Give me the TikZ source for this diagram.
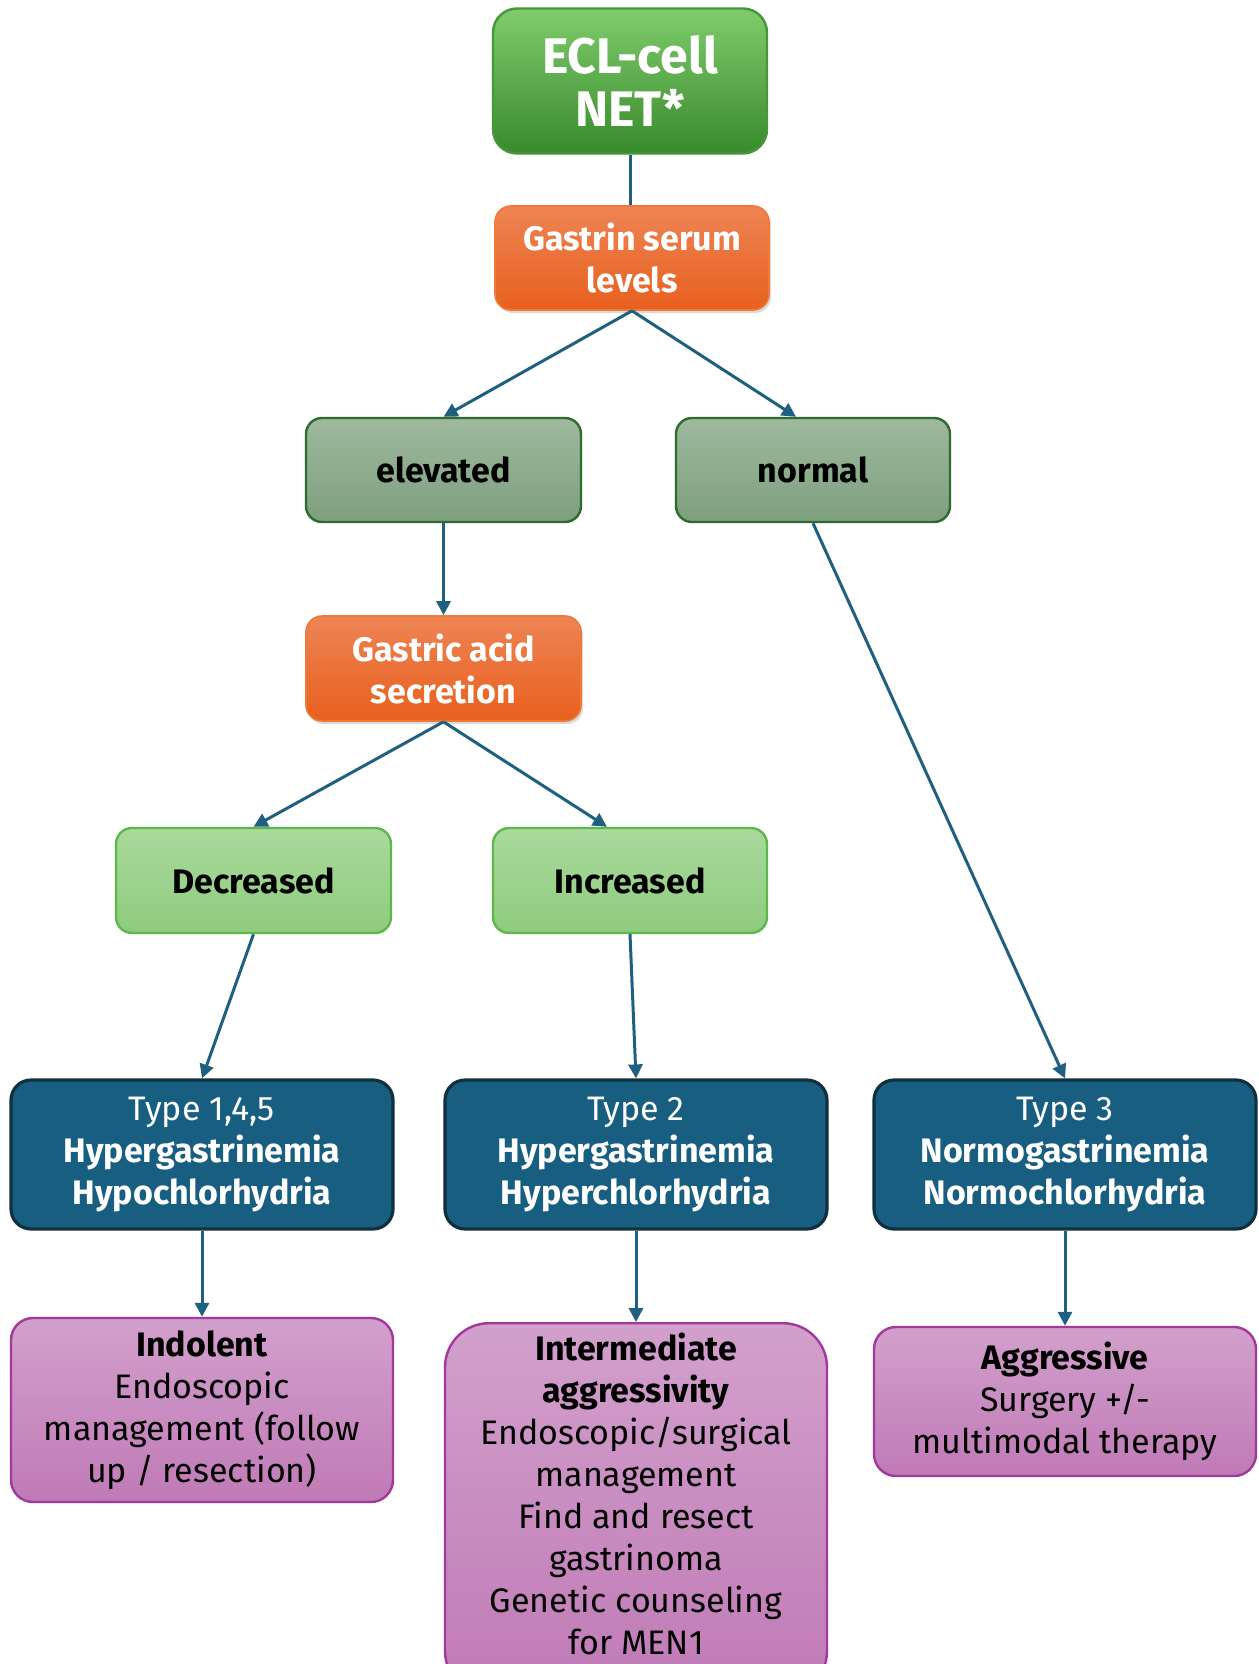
\documentclass[tikz,border=0pt]{standalone}
\usepackage{fontspec}
\setmainfont{Fira Sans}
\usetikzlibrary{arrows.meta,calc,shadows}
\definecolor{lineblue}{HTML}{1F5F80}
\definecolor{ecltop}{HTML}{80CC6C}
\definecolor{eclbot}{HTML}{388A2C}
\definecolor{ortop}{HTML}{EE8454}
\definecolor{orbot}{HTML}{E8601E}
\definecolor{ordraw}{HTML}{F07838}
\definecolor{grtop}{HTML}{9EB99E}
\definecolor{grbot}{HTML}{7E9F7E}
\definecolor{grdraw}{HTML}{2E6B2E}
\definecolor{lgtop}{HTML}{AADA9C}
\definecolor{lgbot}{HTML}{8ECB7E}
\definecolor{lgdraw}{HTML}{5DB84C}
\definecolor{typefill}{HTML}{175E80}
\definecolor{typedraw}{HTML}{10303F}
\definecolor{outtop}{HTML}{D2A0CC}
\definecolor{outbot}{HTML}{C07AB6}
\definecolor{outdraw}{HTML}{A2389C}
\tikzset{
  basebox/.style={rounded corners=8pt, line width=1.2pt, align=center, inner sep=0pt,
    font=\fontsize{17}{21}\selectfont},
  eclbox/.style={basebox, rounded corners=12pt, top color=ecltop, bottom color=eclbot, draw=eclbot!80!ecltop,
    text=white, font=\fontsize{25}{26.5}\selectfont\bfseries},
  orbox/.style={basebox, top color=ortop, bottom color=orbot, draw=ordraw, line width=0.8pt,
    text=white, font=\fontsize{17}{21}\selectfont\bfseries,
    drop shadow={shadow xshift=1pt, shadow yshift=-1.5pt, opacity=0.3}},
  grbox/.style={basebox, top color=grtop, bottom color=grbot, draw=grdraw,
    font=\fontsize{17}{21}\selectfont\bfseries},
  lgbox/.style={basebox, top color=lgtop, bottom color=lgbot, draw=lgdraw,
    font=\fontsize{17}{21}\selectfont\bfseries},
  typebox/.style={basebox, rounded corners=10pt, fill=typefill, draw=typedraw, line width=1.6pt, text=white},
  outbox/.style={basebox, rounded corners=11pt, top color=outtop, bottom color=outbot, draw=outdraw},
  conn/.style={draw=lineblue, line width=1.5pt},
  arr/.style={conn, -{Triangle[width=7pt,length=7pt]}}
}
\begin{document}
\begin{tikzpicture}[x=0.5pt,y=-0.5pt]
\useasboundingbox (0,0) rectangle (1258,1664);
\clip (0,0) rectangle (1258,1664);

\node[eclbox, minimum width=137pt, minimum height=72.5pt] (ecl) at (630,81) {ECL-cell\\NET*};
\node[orbox, minimum width=137pt, minimum height=52pt] (gastrin) at (632,258) {Gastrin serum\\levels};
\node[grbox, minimum width=137.5pt, minimum height=52pt] (elev) at (443.5,470) {elevated};
\node[grbox, minimum width=137pt, minimum height=52pt] (norm) at (813,470) {normal};
\node[orbox, minimum width=137.5pt, minimum height=52.5pt] (acid) at (443.5,668.5) {Gastric acid\\secretion};
\node[lgbox, minimum width=137.5pt, minimum height=52.5pt] (decr) at (253.5,880.5) {Decreased};
\node[lgbox, minimum width=137pt, minimum height=52.5pt] (incr) at (630,880.5) {Increased};

\node[typebox, minimum width=191pt, minimum height=74.5pt] (t1) at (202,1154.5)
  {Type 1,4,5\\\textbf{Hypergastrinemia}\\\textbf{Hypochlorhydria}};
\node[typebox, minimum width=191pt, minimum height=74.5pt] (t2) at (636,1154.5)
  {Type 2\\\textbf{Hypergastrinemia}\\\textbf{Hyperchlorhydria}};
\node[typebox, minimum width=191pt, minimum height=74.5pt] (t3) at (1065,1154.5)
  {Type 3\\\textbf{Normogastrinemia}\\\textbf{Normochlorhydria}};

\node[outbox, minimum width=191pt, minimum height=92pt] (o1) at (202,1410)
  {\textbf{Indolent}\\Endoscopic\\management (follow\\up / resection)};
\node[outbox, rounded corners=22pt, minimum width=191pt, minimum height=186pt, anchor=north] (o2box) at (636,1322) {};
\node[align=center, inner sep=0pt, font=\fontsize{17}{21}\selectfont] (o2) at (636,1494)
  {\textbf{Intermediate}\\\textbf{aggressivity}\\Endoscopic/surgical\\management\\Find and resect\\gastrinoma\\Genetic counseling\\for MEN1};
\node[outbox, minimum width=191pt, minimum height=74.5pt] (o3) at (1065,1401.5)
  {\textbf{Aggressive}\\Surgery +/-\\multimodal therapy};

\draw[conn] (ecl.south) -- (ecl.south |- gastrin.north);
\draw[arr] (gastrin.south) -- (elev.north);
\draw[arr] (gastrin.south) -- ($(norm.north)+(-17,0)$);
\draw[arr] (elev.south) -- (acid.north);
\draw[arr] (acid.south) -- (decr.north);
\draw[arr] (acid.south) -- ($(incr.north)+(-23,0)$);
\draw[arr] (decr.south) -- (t1.north);
\draw[arr] (incr.south) -- (t2.north);
\draw[arr] (norm.south) -- (t3.north);
\draw[arr] (t1.south) -- (o1.north);
\draw[arr] (t2.south) -- (o2box.north);
\draw[arr] (t3.south) -- (o3.north);
\end{tikzpicture}
\end{document}
